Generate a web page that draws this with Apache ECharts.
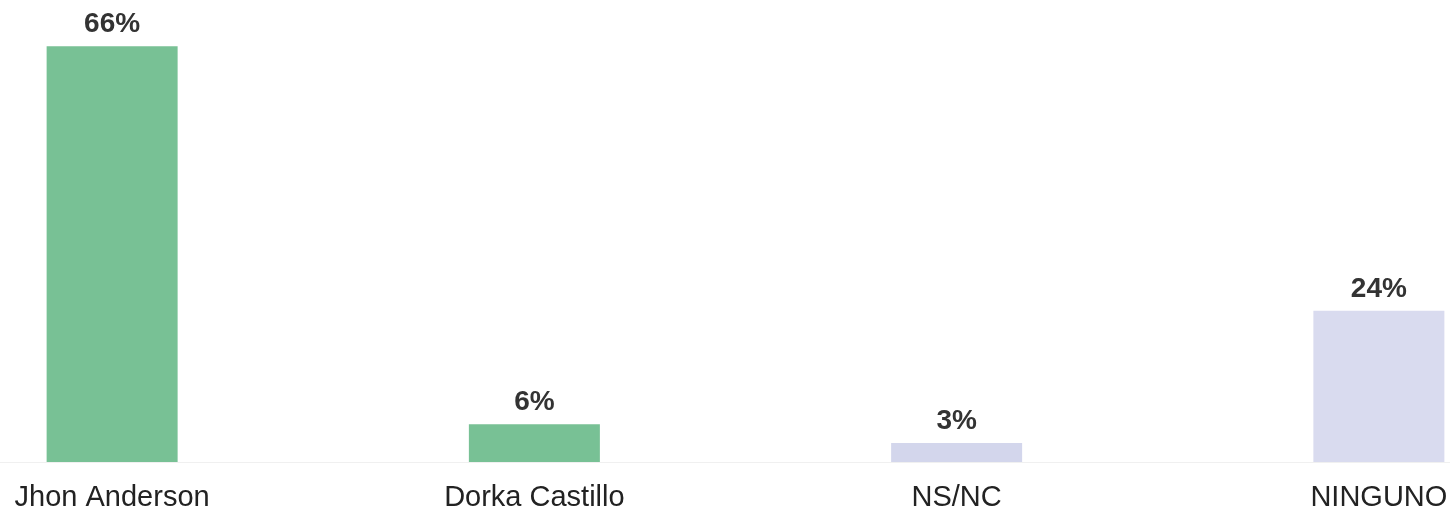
<!DOCTYPE html>
<html>
<head>
<meta charset="utf-8">
<script src="https://cdn.jsdelivr.net/npm/echarts@6/dist/echarts.min.js"></script>
<style>html,body{margin:0;padding:0;background:#fff;}#c{width:1450px;height:514px;}</style>
</head>
<body>
<div id="c"></div>
<script>
const categories = ["Jhon Anderson", "Dorka Castillo", "NS/NC", "NINGUNO"];
const values = [66, 6, 3, 24];
const barColors = ["#78c195", "#78c195", "#d3d6ec", "#d9dbef"];

const chart = echarts.init(document.getElementById('c'), null, {renderer: 'canvas'});
chart.setOption({
  animation: false,
  backgroundColor: '#ffffff',
  grid: {left: -99, right: -140, top: 21, bottom: 52, containLabel: false, outerBoundsMode: 'none'},
  xAxis: {
    type: 'category',
    data: categories,
    axisLine: {show: true, lineStyle: {color: '#f0f0f0', width: 1}},
    axisTick: {show: false},
    axisLabel: {color: '#222', fontSize: 29, fontFamily: 'Liberation Sans, Arial, sans-serif', margin: 21}
  },
  yAxis: {
    type: 'value', min: 0, max: 70,
    show: false,
    splitLine: {show: false}
  },
  series: [{
    type: 'bar',
    barWidth: 131,
    data: values.map((v, i) => ({value: v, itemStyle: {color: barColors[i]}})),
    label: {
      show: true, position: 'top', distance: 8,
      formatter: p => p.value + '%',
      color: '#333', fontSize: 28, fontWeight: 'bold',
      fontFamily: 'Liberation Sans, Arial, sans-serif'
    }
  }]
});
</script>
</body>
</html>
